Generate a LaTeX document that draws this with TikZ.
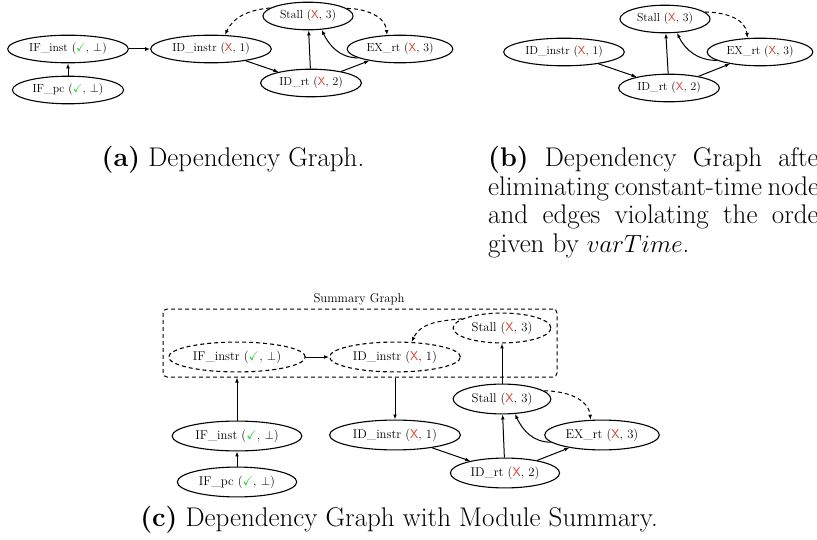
\documentclass[tikz,border=0pt]{standalone}
\usepackage{amssymb}
\usetikzlibrary{arrows.meta,shapes.geometric}
\definecolor{xred}{RGB}{215,60,45}
\definecolor{chkgreen}{RGB}{30,215,30}
\newcommand{\Xm}{\textcolor{xred}{\textsf{X}}}
\newcommand{\Ck}{\textcolor{chkgreen}{$\checkmark$}}
\tikzset{
  gnode/.style={ellipse, draw, line width=1.1pt, inner sep=3.9pt, font=\fontsize{11.7}{14}\selectfont},
  cnode/.style={ellipse, draw, line width=1.1pt, inner sep=4.2pt, font=\fontsize{12.7}{15}\selectfont},
  dsh/.style={dash pattern=on 4pt off 3pt},
  snode/.style={cnode, dsh},
  arr/.style={-{Latex[length=5pt,width=3.8pt]}, line width=1pt},
  darr/.style={arr, dsh},
  capfont/.style={font=\fontsize{27}{28.5}\selectfont, inner sep=0pt},
}
\begin{document}
\begin{tikzpicture}[x=1pt,y=1pt]
\path[use as bounding box] (0,0) rectangle (817,-540);
\clip (0,0) rectangle (817,-540);

% ---------- (a) ----------
\node[gnode] (aIFinst) at (68,-49) {IF\_inst (\Ck, $\bot$)};
\node[gnode] (aIFpc) at (68,-90) {IF\_pc (\Ck, $\bot$)};
\node[gnode] (aIDinstr) at (211,-49) {ID\_instr (\Xm, 1)};
\node[gnode] (aStall) at (308,-16) {Stall (\Xm, 3)};
\node[gnode] (aEXrt) at (400,-49) {EX\_rt (\Xm, 3)};
\node[gnode] (aIDrt) at (311,-83) {ID\_rt (\Xm, 2)};
\draw[arr] (aIFpc) -- (aIFinst);
\draw[arr] (aIFinst) -- (aIDinstr);
\draw[arr] (aIDinstr) -- (aIDrt);
\draw[arr] (aIDrt) -- (aStall);
\draw[arr] (aIDrt) -- (aEXrt);
\draw[arr] (aEXrt.192) to[out=180,in=-65] (aStall.-45);
\draw[darr] (aStall.168) to[out=185,in=65] (aIDinstr.45);
\draw[darr] (aStall.11) to[out=0,in=95] (aEXrt.133);

% ---------- (b) ----------
\node[gnode] (bStall) at (665,-19) {Stall (\Xm, 3)};
\node[gnode] (bIDinstr) at (564,-52) {ID\_instr (\Xm, 1)};
\node[gnode] (bEXrt) at (760,-52) {EX\_rt (\Xm, 3)};
\node[gnode] (bIDrt) at (669,-88) {ID\_rt (\Xm, 2)};
\draw[arr] (bIDinstr) -- (bIDrt);
\draw[arr] (bIDrt) -- (bStall);
\draw[arr] (bIDrt) -- (bEXrt);
\draw[arr] (bEXrt.191) to[out=180,in=-65] (bStall.-49);
\draw[darr] (bStall.10) to[out=0,in=95] (bEXrt.132);

% ---------- captions (a), (b) ----------
\node[capfont, anchor=base] (capa) at (233,-167) {\textbf{(a)} Dependency Graph.};
\node[capfont, anchor=base west] (capb1) at (488,-167) {\makebox[340pt][s]{\textbf{(b)} Dependency Graph after}};
\node[capfont, anchor=base west] (capb2) at (488,-195.5) {\makebox[340pt][s]{eliminating constant-time nodes}};
\node[capfont, anchor=base west] (capb3) at (488,-224) {\makebox[340pt][s]{and edges violating the order}};
\node[capfont, anchor=base west] (capb4) at (488,-252.5) {given by $varTime$.};

% ---------- (c) ----------
\node[draw, dsh, line width=1pt, rounded corners=4pt, minimum width=394pt, minimum height=68pt, inner sep=0pt] (box) at (360,-343) {};
\node[anchor=base, font=\fontsize{12.7}{15}\selectfont, inner sep=0pt] (boxlbl) at (359,-302) {Summary Graph};
\node[snode] (cIFinstr) at (237,-357) {IF\_instr (\Ck, $\bot$)};
\node[snode] (cIDinstrS) at (395,-357) {ID\_instr (\Xm, 1)};
\node[snode] (cStallS) at (502,-328) {Stall (\Xm, 3)};
\node[cnode] (cStall) at (502,-399) {Stall (\Xm, 3)};
\node[cnode] (cIFinst) at (237,-436) {IF\_inst (\Ck, $\bot$)};
\node[cnode] (cIFpc) at (237,-482) {IF\_pc (\Ck, $\bot$)};
\node[cnode] (cIDinstr) at (395,-435) {ID\_instr (\Xm, 1)};
\node[cnode] (cIDrt) at (505,-473) {ID\_rt (\Xm, 2)};
\node[cnode] (cEXrt) at (602,-435) {EX\_rt (\Xm, 3)};

\draw[arr] (cIFinstr) -- (cIDinstrS);
\draw[darr] (cStallS.167) to[out=185,in=65] (cIDinstrS.42);
\draw[arr] (cStall) -- (cStallS);
\draw[arr] (cIFinst) -- (cIFinst |- box.south);
\draw[arr] (cIDinstr |- box.south) -- (cIDinstr);
\draw[arr] (cIFpc) -- (cIFinst);
\draw[arr] (cIDinstr) -- (cIDrt);
\draw[arr] (cIDrt) -- (cStall);
\draw[arr] (cIDrt) -- (cEXrt);
\draw[arr] (cEXrt.188) to[out=180,in=-65] (cStall.-49);
\draw[darr] (cStall.11) to[out=0,in=95] (cEXrt.127);

\node[capfont, anchor=base] (capc) at (399,-526) {\textbf{(c)} Dependency Graph with Module Summary.};
\end{tikzpicture}
\end{document}
